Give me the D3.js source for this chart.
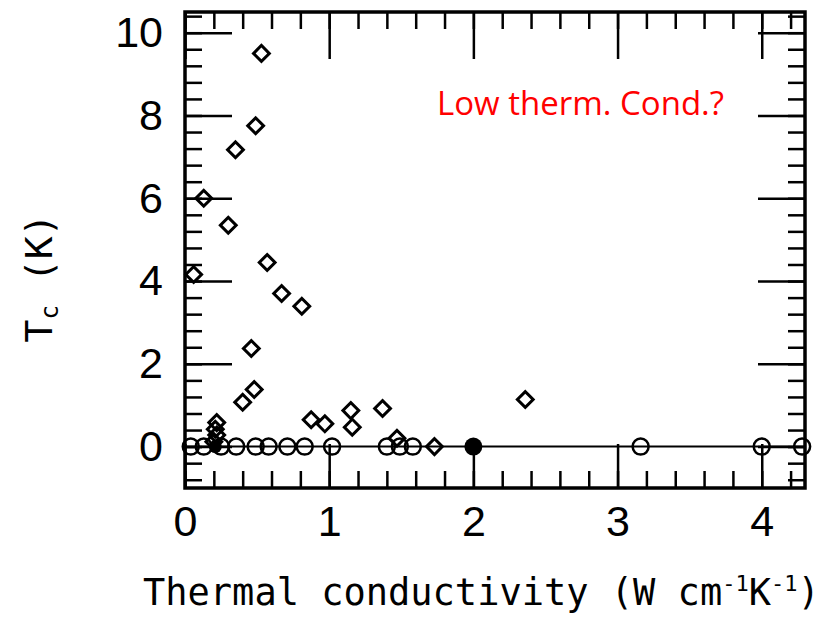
<!DOCTYPE html>
<html>
<head>
<meta charset="utf-8">
<script src="https://cdn.jsdelivr.net/npm/d3@7"></script>
<style>
  body { margin: 0; background: #fff; }
  svg { display: block; }
</style>
</head>
<body>
<svg id="chart"></svg>
<script>
// open diamonds: materials with a measured Tc
const diamondK  = [0.53, 0.49, 0.35, 0.13, 0.30, 0.57, 0.06, 0.67, 0.81, 0.46, 0.48, 0.40,
                   0.875, 0.97, 1.15, 1.16, 1.37, 2.36, 1.47, 1.73, 0.22, 0.21, 0.22, 0.20];
const diamondTc = [9.5, 7.75, 7.17, 6.0, 5.35, 4.45, 4.16, 3.7, 3.39, 2.37, 1.38, 1.07,
                   0.65, 0.55, 0.87, 0.47, 0.92, 1.14, 0.2, 0.0, 0.58, 0.42, 0.28, 0.12];
// open circles: not superconducting (Tc = 0)
const circleK = [0.04, 0.13, 0.25, 0.355, 0.49, 0.58, 0.71, 0.83, 1.02, 1.40, 1.49, 1.58, 3.16, 4.0, 4.28];
// filled circles
const filledK = [0.21, 2.0];

const xTicks = [0, 1, 2, 3, 4];
const yTicks = [0, 2, 4, 6, 8, 10];

const W = 829, H = 617;
const M = {left: 185, right: 24, top: 12, bottom: 129};

const svg = d3.select('#chart').attr('width', W).attr('height', H);

const x = d3.scaleLinear().domain([0, 4.3]).range([M.left, W - M.right]);
const y = d3.scaleLinear().domain([-1, 10.5]).range([H - M.bottom, M.top]);

const xMinor = d3.range(0, 22).map(i => +(i * 0.2).toFixed(1));
const yMinor = d3.range(-2, 27).map(i => +(i * 0.4).toFixed(1));

const tickFont = '"Liberation Sans", Arial, sans-serif';
const monoFont = '"DejaVu Sans Mono", monospace';

function styleAxis(g) {
  g.select('.domain').remove();
  g.selectAll('.tick line').attr('stroke', '#000').attr('stroke-width', 2.5);
}

// minor ticks, all four sides, pointing inward
svg.append('g').attr('transform', `translate(0,${y(-1)})`)
  .call(d3.axisBottom(x).tickValues(xMinor).tickSize(-17).tickFormat(''))
  .call(styleAxis);
svg.append('g').attr('transform', `translate(0,${y(10.5)})`)
  .call(d3.axisTop(x).tickValues(xMinor).tickSize(-17).tickFormat(''))
  .call(styleAxis);
svg.append('g').attr('transform', `translate(${x(0)},0)`)
  .call(d3.axisLeft(y).tickValues(yMinor).tickSize(-17).tickFormat(''))
  .call(styleAxis);
svg.append('g').attr('transform', `translate(${x(4.3)},0)`)
  .call(d3.axisRight(y).tickValues(yMinor).tickSize(-17).tickFormat(''))
  .call(styleAxis);

// major ticks
const xb = svg.append('g').attr('transform', `translate(0,${y(-1)})`)
  .call(d3.axisBottom(x).tickValues(xTicks).tickFormat(d3.format('d'))
    .tickSizeInner(-44).tickSizeOuter(0).tickPadding(17))
  .call(styleAxis);
xb.selectAll('text').attr('font-family', tickFont).attr('font-size', 43).attr('fill', '#000');

svg.append('g').attr('transform', `translate(0,${y(10.5)})`)
  .call(d3.axisTop(x).tickValues(xTicks).tickSize(-47).tickFormat(''))
  .call(styleAxis);

const yl = svg.append('g').attr('transform', `translate(${x(0)},0)`)
  .call(d3.axisLeft(y).tickValues(yTicks).tickFormat(d3.format('d'))
    .tickSizeInner(-47).tickSizeOuter(0).tickPadding(22))
  .call(styleAxis);
yl.selectAll('text').attr('font-family', tickFont).attr('font-size', 43).attr('fill', '#000');

svg.append('g').attr('transform', `translate(${x(4.3)},0)`)
  .call(d3.axisRight(y).tickValues(yTicks).tickSize(-47).tickFormat(''))
  .call(styleAxis);

// frame
svg.append('rect')
  .attr('x', x(0)).attr('y', y(10.5))
  .attr('width', x(4.3) - x(0)).attr('height', y(-1) - y(10.5))
  .attr('fill', 'none').attr('stroke', '#000').attr('stroke-width', 3.5);

// zero line
svg.append('line')
  .attr('x1', x(0)).attr('x2', x(4.3))
  .attr('y1', y(0)).attr('y2', y(0))
  .attr('stroke', '#000').attr('stroke-width', 2);

// circles at Tc = 0
svg.append('g').selectAll('circle.open')
  .data(circleK)
  .join('circle')
  .attr('class', 'open')
  .attr('cx', d => x(d)).attr('cy', y(0)).attr('r', 8)
  .attr('fill', 'none').attr('stroke', '#000').attr('stroke-width', 2.5);

svg.append('g').selectAll('circle.filled')
  .data(filledK)
  .join('circle')
  .attr('class', 'filled')
  .attr('cx', d => x(d)).attr('cy', y(0)).attr('r', d => d < 1 ? 6.5 : 9)
  .attr('fill', '#000');

// diamonds
const diamonds = diamondK.map((k, i) => ({k, tc: diamondTc[i]}));
const dsym = d3.symbol().type(d3.symbolSquare).size(125);
svg.append('g').selectAll('path')
  .data(diamonds)
  .join('path')
  .attr('d', dsym)
  .attr('transform', d => `translate(${x(d.k)},${y(d.tc)}) rotate(45)`)
  .attr('fill', 'none').attr('stroke', '#000').attr('stroke-width', 3);

// axis titles
const xt = svg.append('text')
  .attr('x', 143).attr('y', 605)
  .attr('font-family', monoFont).attr('font-size', 37).attr('fill', '#000')
  .text('Thermal conductivity (W cm');
xt.append('tspan').attr('font-size', 22).attr('dy', -14).text('-1');
xt.append('tspan').attr('dy', 14).text('K');
xt.append('tspan').attr('font-size', 22).attr('dy', -14).text('-1');
xt.append('tspan').attr('dy', 14).text(')');

const yt = svg.append('text')
  .attr('transform', 'translate(52,278) rotate(-90)')
  .attr('text-anchor', 'middle')
  .attr('font-family', monoFont).attr('font-size', 38).attr('fill', '#000')
  .text('T');
yt.append('tspan').attr('font-size', 24).attr('dy', 6).text('c');
yt.append('tspan').attr('dy', -6).text(' (K)');

// annotation
svg.append('text')
  .attr('x', 437).attr('y', 115)
  .attr('font-family', '"Open Sans", sans-serif').attr('font-size', 33)
  .attr('fill', '#ff0000')
  .text('Low therm. Cond.?');
</script>
</body>
</html>
